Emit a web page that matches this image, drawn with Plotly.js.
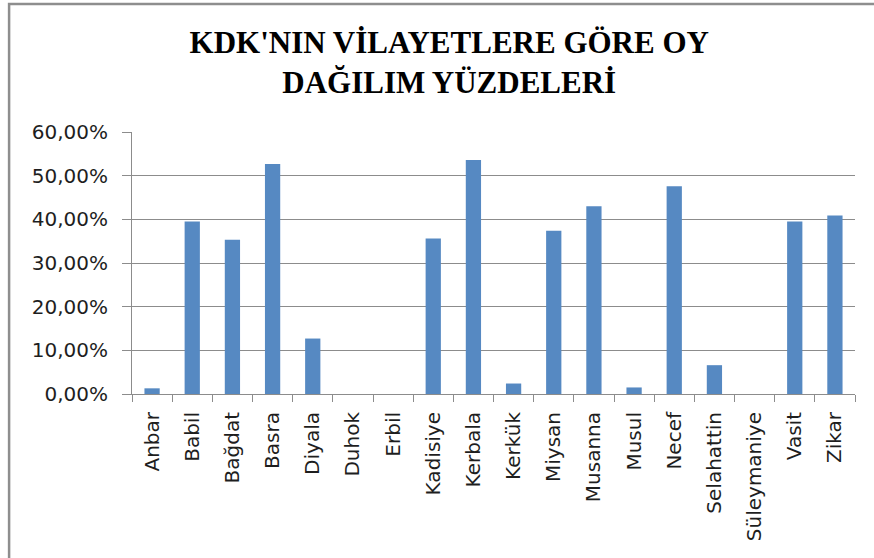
<!DOCTYPE html>
<html>
<head>
<meta charset="utf-8">
<script src="https://cdn.plot.ly/plotly-3.0.1.min.js"></script>
<style>html,body{margin:0;padding:0;background:#fff;}#chart{width:874px;height:558px;}</style>
</head>
<body>
<div id="chart"></div>
<script>
const provinces = ["Anbar","Babil","Bağdat","Basra","Diyala","Duhok","Erbil","Kadisiye","Kerbala","Kerkük","Miysan","Musanna","Musul","Necef","Selahattin","Süleymaniye","Vasit","Zikar"];
const voteShare = [0.013,0.395,0.353,0.527,0.127,0,0,0.356,0.536,0.024,0.374,0.430,0.015,0.476,0.066,0,0.395,0.409];
const yTicks = [0,0.1,0.2,0.3,0.4,0.5,0.6];
const chartTitle = "KDK'NIN VİLAYETLERE GÖRE OY<br>DAĞILIM YÜZDELERİ";

const tickFont = {family: "DejaVu Sans", size: 20, color: "#1e1e1e"};

Plotly.newPlot("chart", [{
  type: "bar",
  x: provinces,
  y: voteShare,
  marker: {color: "#5689c2", line: {color: "#a9c2e2", width: 0}},
  hoverinfo: "x+y"
}], {
  width: 874, height: 558,
  margin: {l: 132, r: 19, t: 132, b: 164, pad: 0},
  paper_bgcolor: "#ffffff",
  plot_bgcolor: "#ffffff",
  separators: ",.",
  bargap: 0.62,
  showlegend: false,
  title: {
    text: chartTitle,
    font: {family: "Liberation Serif", size: 31, color: "#000", weight: "bold", lineposition: "none"},
    xref: "container", x: 0.514, xanchor: "center",
    yref: "container", y: 0.905, yanchor: "top"
  },
  xaxis: {
    type: "category",
    tickangle: -90,
    tickfont: tickFont,
    showline: true, linecolor: "#8c8c8c", linewidth: 1,
    ticks: "outside", ticklen: 7, tickcolor: "#8c8c8c",
    tickson: "boundaries",
    ticklabelstandoff: 9,
    showgrid: false,
    fixedrange: true
  },
  yaxis: {
    range: [0, 0.6],
    tickvals: yTicks,
    tickformat: ".2%",
    tickfont: tickFont,
    showline: true, linecolor: "#8c8c8c", linewidth: 1,
    ticks: "outside", ticklen: 9, tickcolor: "#8c8c8c",
    showgrid: true, gridcolor: "#8c8c8c", gridwidth: 1,
    zeroline: false,
    ticklabelstandoff: 10,
    fixedrange: true
  },
  shapes: [{
    type: "rect", xref: "paper", yref: "paper",
    x0: -0.170, x1: 1.04, y0: -0.66, y1: 1.4885,
    line: {color: "#8e8e8e", width: 2.5},
    fillcolor: "rgba(0,0,0,0)", layer: "below"
  }]
}, {displayModeBar: false});
</script>
</body>
</html>
